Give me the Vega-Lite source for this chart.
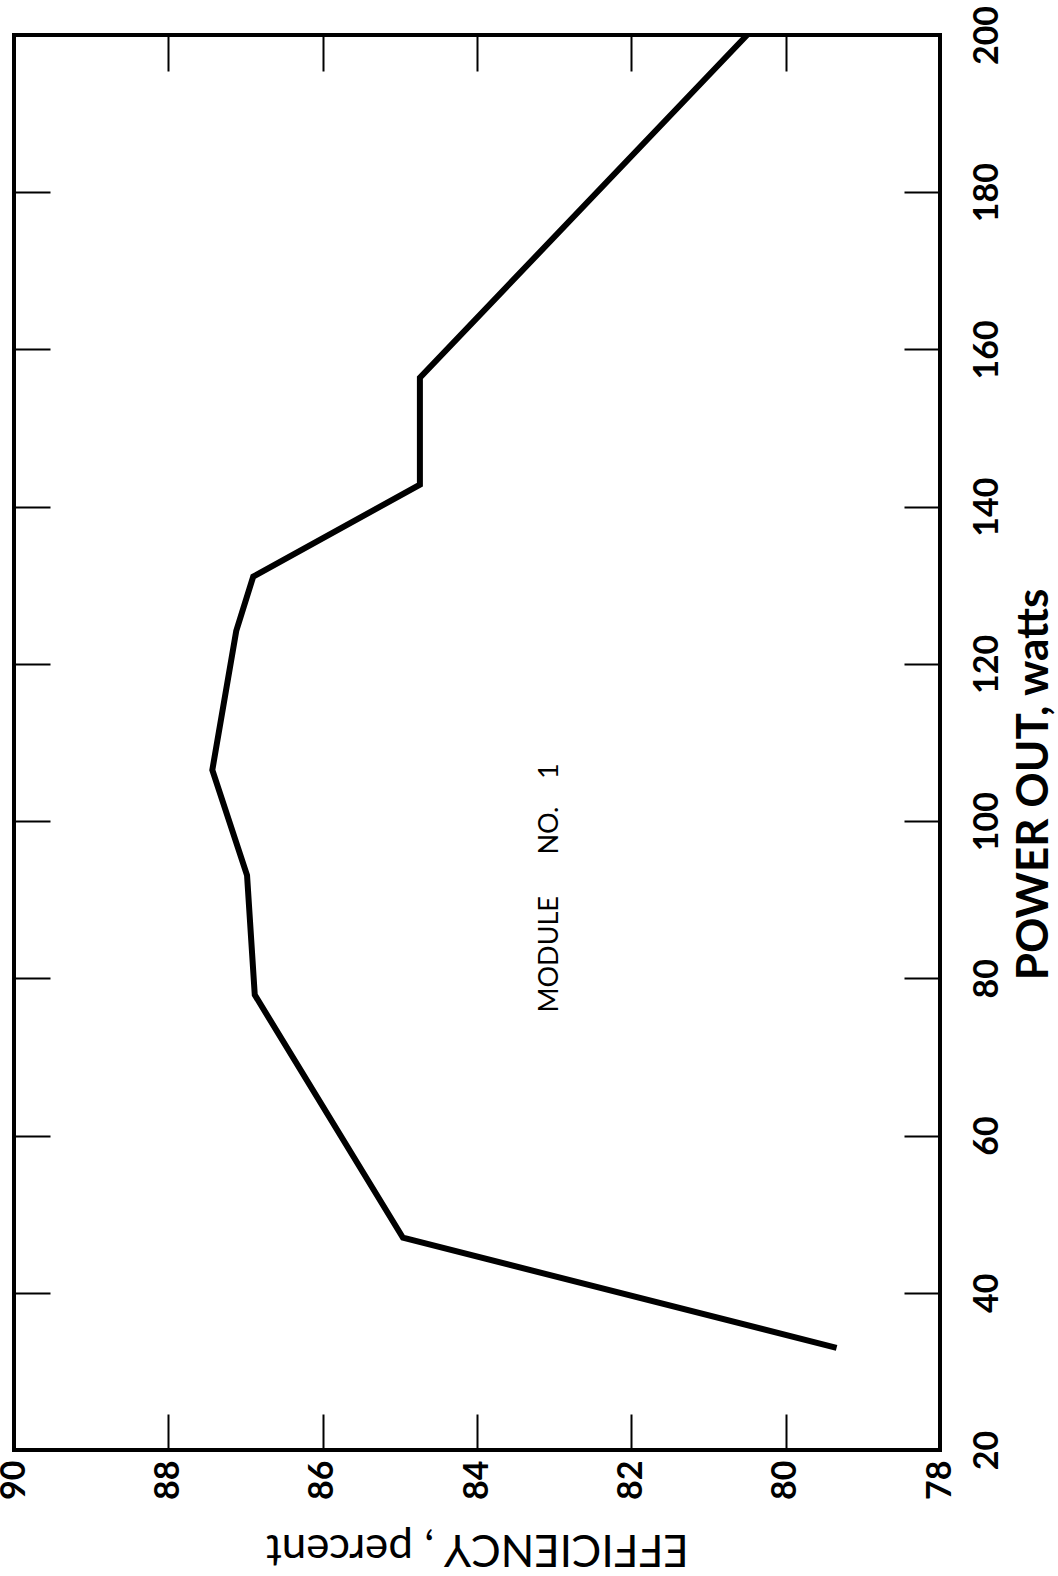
{
  "$schema": "https://vega.github.io/schema/vega-lite/v6.json",
  "width": 926,
  "height": 1415,
  "autosize": {"type": "none"},
  "padding": {"left": 14, "top": 35, "right": 118, "bottom": 126},
  "background": "white",
  "config": {
    "view": {"stroke": "black", "strokeWidth": 4},
    "font": "Lato",
    "axis": {
      "domain": false,
      "grid": false,
      "tickColor": "black",
      "tickWidth": 2,
      "tickSize": -36,
      "labelColor": "black",
      "titleColor": "black",
      "labelFont": "Lato",
      "titleFont": "Lato"
    }
  },
  "datasets": {
    "curve": [
      {"power": 33.0, "efficiency": 79.34},
      {"power": 47.0, "efficiency": 84.96},
      {"power": 77.9, "efficiency": 86.88},
      {"power": 93.1, "efficiency": 86.98},
      {"power": 106.5, "efficiency": 87.43},
      {"power": 124.2, "efficiency": 87.12},
      {"power": 131.1, "efficiency": 86.9},
      {"power": 142.8, "efficiency": 84.74},
      {"power": 156.4, "efficiency": 84.74},
      {"power": 200, "efficiency": 80.5}
    ],
    "note": [
      {"power": 91.5, "efficiency": 83.05, "label": "MODULE\u00a0\u00a0\u00a0\u00a0\u00a0\u00a0NO.\u00a0\u00a0\u00a0\u00a01"}
    ]
  },
  "layer": [
    {
      "data": {"name": "curve"},
      "mark": {"type": "line", "color": "black", "strokeWidth": 6, "strokeJoin": "miter"},
      "encoding": {
        "order": {"field": "power", "type": "quantitative"},
        "x": {
          "field": "efficiency",
          "type": "quantitative",
          "scale": {"domain": [78, 90], "reverse": true, "zero": false, "nice": false},
          "axis": {
            "orient": "bottom",
            "values": [78, 80, 82, 84, 86, 88, 90],
            "labelAngle": 270,
            "labelFontSize": 34,
            "labelFontWeight": "bold",
            "labelPadding": 46,
            "labelFlush": false,
            "labelOverlap": false,
            "title": "EFFICIENCY ,  percent",
            "titleAngle": 180,
            "titleFontSize": 44,
            "titleFontWeight": "normal",
            "titleAlign": "center",
            "titleBaseline": "middle",
            "titleX": 463,
            "titleY": 97
          }
        },
        "y": {
          "field": "power",
          "type": "quantitative",
          "scale": {"domain": [20, 200], "zero": false, "nice": false},
          "axis": {
            "orient": "right",
            "values": [20, 40, 60, 80, 100, 120, 140, 160, 180, 200],
            "labelAngle": 270,
            "labelFontSize": 34,
            "labelFontWeight": "bold",
            "labelPadding": 66,
            "labelFlush": false,
            "labelOverlap": false,
            "title": "POWER OUT, watts",
            "titleAngle": 270,
            "titleFontSize": 44,
            "titleFontWeight": "bold",
            "titleAlign": "center",
            "titleBaseline": "middle",
            "titleX": 94,
            "titleY": 749
          }
        }
      }
    },
    {
      "data": {"name": "note"},
      "mark": {"type": "text", "angle": 270, "fontSize": 27, "font": "Lato", "color": "black", "align": "center", "baseline": "middle"},
      "encoding": {
        "text": {"field": "label"},
        "x": {
          "field": "efficiency",
          "type": "quantitative",
          "axis": {"orient": "top", "values": [78, 80, 82, 84, 86, 88, 90], "labels": false, "title": null}
        },
        "y": {
          "field": "power",
          "type": "quantitative",
          "axis": {"orient": "left", "values": [20, 40, 60, 80, 100, 120, 140, 160, 180, 200], "labels": false, "title": null}
        }
      }
    }
  ]
}
